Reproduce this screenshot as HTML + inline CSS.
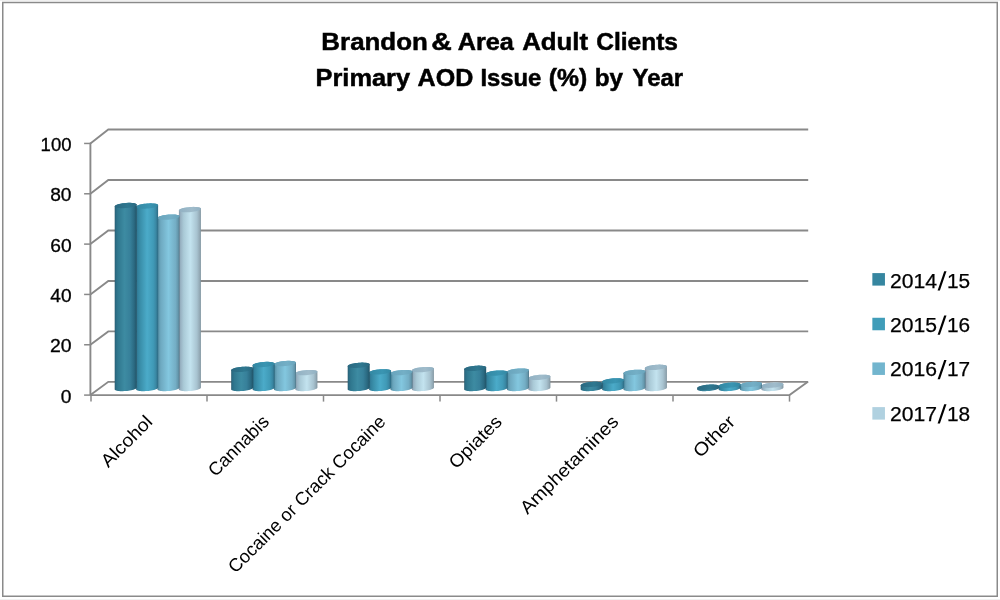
<!DOCTYPE html>
<html><head><meta charset="utf-8"><title>Brandon &amp; Area Adult Clients</title>
<style>html,body{margin:0;padding:0;background:#fff;}body{width:1000px;height:600px;overflow:hidden;}svg{display:block;will-change:transform;transform:translateZ(0);}text{font-family:"Liberation Sans",sans-serif;fill:#000;}</style>
</head><body>
<svg width="1000" height="600" viewBox="0 0 1000 600">
<defs>
<linearGradient id="g0" x1="0" y1="0" x2="1" y2="0"><stop offset="0" stop-color="#26566a"/><stop offset="0.05" stop-color="#2b6c84"/><stop offset="0.15" stop-color="#30788f"/><stop offset="0.45" stop-color="#3d8ba2"/><stop offset="0.7" stop-color="#37809a"/><stop offset="0.88" stop-color="#2b6a82"/><stop offset="1" stop-color="#215468"/></linearGradient>
<linearGradient id="c0" x1="0" y1="0" x2="1" y2="0"><stop offset="0" stop-color="#2a6880"/><stop offset="0.6" stop-color="#2f7890"/><stop offset="1" stop-color="#2a6880"/></linearGradient>
<linearGradient id="g1" x1="0" y1="0" x2="1" y2="0"><stop offset="0" stop-color="#2a647c"/><stop offset="0.07" stop-color="#32809c"/><stop offset="0.2" stop-color="#3a8faa"/><stop offset="0.5" stop-color="#4babc9"/><stop offset="0.78" stop-color="#409ab7"/><stop offset="0.9" stop-color="#3a88a4"/><stop offset="1" stop-color="#2d6a82"/></linearGradient>
<linearGradient id="c1" x1="0" y1="0" x2="1" y2="0"><stop offset="0" stop-color="#3388a3"/><stop offset="0.6" stop-color="#3a95b2"/><stop offset="1" stop-color="#3388a3"/></linearGradient>
<linearGradient id="g2" x1="0" y1="0" x2="1" y2="0"><stop offset="0" stop-color="#3f7489"/><stop offset="0.06" stop-color="#5c98ae"/><stop offset="0.15" stop-color="#6ea9c0"/><stop offset="0.5" stop-color="#83c7df"/><stop offset="0.82" stop-color="#74aec5"/><stop offset="0.94" stop-color="#6496ab"/><stop offset="1" stop-color="#4f7586"/></linearGradient>
<linearGradient id="c2" x1="0" y1="0" x2="1" y2="0"><stop offset="0" stop-color="#68a4bc"/><stop offset="0.6" stop-color="#74afc6"/><stop offset="1" stop-color="#68a4bc"/></linearGradient>
<linearGradient id="g3" x1="0" y1="0" x2="1" y2="0"><stop offset="0" stop-color="#8497a8"/><stop offset="0.08" stop-color="#98b2c2"/><stop offset="0.22" stop-color="#aacad7"/><stop offset="0.52" stop-color="#c3e3ef"/><stop offset="0.82" stop-color="#a8c3d0"/><stop offset="0.94" stop-color="#93a9b5"/><stop offset="1" stop-color="#7c919c"/></linearGradient>
<linearGradient id="c3" x1="0" y1="0" x2="1" y2="0"><stop offset="0" stop-color="#90b0c2"/><stop offset="0.6" stop-color="#a0bccb"/><stop offset="1" stop-color="#90b0c2"/></linearGradient>
</defs>
<rect x="0" y="0" width="1000" height="600" fill="#fff"/>
<rect x="0" y="0" width="1000" height="1" fill="#f0f0f0"/><rect x="0" y="599" width="1000" height="1" fill="#f1f1f1"/>
<rect x="2.75" y="2.5" width="994.5" height="593.75" fill="none" stroke="#8a8a8a" stroke-width="1.5"/>
<text x="321.37" y="49.60" font-size="24.3" font-weight="bold" stroke="#000" stroke-width="0.5" textLength="106.44" lengthAdjust="spacingAndGlyphs">Brandon</text>
<text x="431.15" y="49.60" font-size="24.3" font-weight="bold" stroke="#000" stroke-width="0.5" textLength="20.54" lengthAdjust="spacingAndGlyphs">&amp;</text>
<text x="457.77" y="49.60" font-size="24.3" font-weight="bold" stroke="#000" stroke-width="0.5" textLength="56.07" lengthAdjust="spacingAndGlyphs">Area</text>
<text x="522.16" y="49.60" font-size="24.3" font-weight="bold" stroke="#000" stroke-width="0.5" textLength="65.96" lengthAdjust="spacingAndGlyphs">Adult</text>
<text x="596.19" y="49.60" font-size="24.3" font-weight="bold" stroke="#000" stroke-width="0.5" textLength="81.81" lengthAdjust="spacingAndGlyphs">Clients</text>
<text x="315.50" y="85.50" font-size="24.3" font-weight="bold" stroke="#000" stroke-width="0.5" textLength="94.64" lengthAdjust="spacingAndGlyphs">Primary</text>
<text x="417.58" y="85.50" font-size="24.3" font-weight="bold" stroke="#000" stroke-width="0.5" textLength="55.68" lengthAdjust="spacingAndGlyphs">AOD</text>
<text x="480.40" y="85.50" font-size="24.3" font-weight="bold" stroke="#000" stroke-width="0.5" textLength="61.01" lengthAdjust="spacingAndGlyphs">Issue</text>
<text x="548.77" y="85.50" font-size="24.3" font-weight="bold" stroke="#000" stroke-width="0.5" textLength="38.46" lengthAdjust="spacingAndGlyphs">(%)</text>
<text x="594.80" y="85.50" font-size="24.3" font-weight="bold" stroke="#000" stroke-width="0.5" textLength="28.33" lengthAdjust="spacingAndGlyphs">by</text>
<text x="632.60" y="85.50" font-size="24.3" font-weight="bold" stroke="#000" stroke-width="0.5" textLength="50.35" lengthAdjust="spacingAndGlyphs">Year</text>
<text x="40.59" y="151.10" font-size="18.9" stroke="#000" stroke-width="0.3" textLength="30.94" lengthAdjust="spacingAndGlyphs">100</text>
<text x="50.16" y="201.40" font-size="18.9" stroke="#000" stroke-width="0.3" textLength="21.39" lengthAdjust="spacingAndGlyphs">80</text>
<text x="50.23" y="251.70" font-size="18.9" stroke="#000" stroke-width="0.3" textLength="21.32" lengthAdjust="spacingAndGlyphs">60</text>
<text x="50.26" y="302.00" font-size="18.9" stroke="#000" stroke-width="0.3" textLength="21.29" lengthAdjust="spacingAndGlyphs">40</text>
<text x="49.92" y="352.30" font-size="18.9" stroke="#000" stroke-width="0.3" textLength="21.64" lengthAdjust="spacingAndGlyphs">20</text>
<text x="60.85" y="402.60" font-size="18.9" stroke="#000" stroke-width="0.3" textLength="10.70" lengthAdjust="spacingAndGlyphs">0</text>
<text x="890.14" y="287.50" font-size="19.5" stroke="#000" stroke-width="0.25" textLength="46.98" lengthAdjust="spacingAndGlyphs">2014</text>
<text x="946.91" y="287.50" font-size="19.5" stroke="#000" stroke-width="0.25" textLength="23.16" lengthAdjust="spacingAndGlyphs">15</text>
<text x="890.14" y="331.87" font-size="19.5" stroke="#000" stroke-width="0.25" textLength="46.98" lengthAdjust="spacingAndGlyphs">2015</text>
<text x="946.91" y="331.87" font-size="19.5" stroke="#000" stroke-width="0.25" textLength="23.16" lengthAdjust="spacingAndGlyphs">16</text>
<text x="890.14" y="376.24" font-size="19.5" stroke="#000" stroke-width="0.25" textLength="46.98" lengthAdjust="spacingAndGlyphs">2016</text>
<text x="946.91" y="376.24" font-size="19.5" stroke="#000" stroke-width="0.25" textLength="23.16" lengthAdjust="spacingAndGlyphs">17</text>
<text x="890.14" y="420.61" font-size="19.5" stroke="#000" stroke-width="0.25" textLength="46.98" lengthAdjust="spacingAndGlyphs">2017</text>
<text x="946.91" y="420.61" font-size="19.5" stroke="#000" stroke-width="0.25" textLength="23.16" lengthAdjust="spacingAndGlyphs">18</text>
<g stroke="#898989" stroke-width="1.9" fill="none" stroke-linecap="butt" stroke-linejoin="miter">
<path d="M90.4 344.77L108.30000000000001 331.39H808.2"/>
<path d="M90.4 294.44L108.30000000000001 280.93H808.2"/>
<path d="M90.4 244.11L108.30000000000001 230.47H808.2"/>
<path d="M90.4 193.78L108.30000000000001 180.01H808.2"/>
<path d="M90.4 143.45L108.30000000000001 129.55H808.2"/>
<path d="M90.4 395.1H789.5 L807.9000000000001 381.85"/>
<path d="M90.4 395.1 L108.30000000000001 381.85H808.2"/>
<path d="M90.4 142.75V395.1"/>
</g>
<g stroke="#898989" stroke-width="1.5" fill="none">
<path d="M84.10000000000001 395.10H90.4"/>
<path d="M84.10000000000001 344.77H90.4"/>
<path d="M84.10000000000001 294.44H90.4"/>
<path d="M84.10000000000001 244.11H90.4"/>
<path d="M84.10000000000001 193.78H90.4"/>
<path d="M84.10000000000001 143.45H90.4"/>
<path d="M91.00 395.1V401.6"/>
<path d="M207.00 395.1V401.6"/>
<path d="M323.50 395.1V401.6"/>
<path d="M440.00 395.1V401.6"/>
<path d="M556.50 395.1V401.6"/>
<path d="M673.00 395.1V401.6"/>
<path d="M789.50 395.1V401.6"/>
</g>
<polygon points="200.90,208.69 200.81,208.37 200.53,208.06 200.06,207.78 199.43,207.54 198.63,207.32 197.68,207.15 196.60,207.01 195.40,206.92 194.11,206.88 192.75,206.88 191.34,206.93 189.90,207.02 188.46,207.16 187.05,207.33 185.69,207.55 184.40,207.80 183.20,208.08 182.12,208.39 181.17,208.72 180.37,209.06 179.74,209.41 179.27,209.76 178.99,210.11 178.90,210.45 178.90,389.35 178.99,389.68 179.27,389.98 179.74,390.26 180.37,390.51 181.17,390.73 182.12,390.90 183.20,391.04 184.40,391.13 185.69,391.17 187.05,391.17 188.46,391.12 189.90,391.03 191.34,390.89 192.75,390.71 194.11,390.50 195.40,390.25 196.60,389.97 197.68,389.66 198.63,389.33 199.43,388.99 200.06,388.64 200.53,388.29 200.81,387.94 200.90,387.60" fill="url(#g3)"/>
<polygon points="200.30,209.57 200.73,209.15 200.90,208.74 200.79,208.35 200.42,207.99 199.79,207.66 198.91,207.39 197.81,207.17 196.52,207.00 195.06,206.91 193.48,206.87 191.81,206.91 190.09,207.00 188.37,207.17 186.68,207.39 185.08,207.66 183.59,207.99 182.26,208.35 181.11,208.74 180.19,209.15 179.50,209.57 179.07,210.00 178.90,210.41 179.01,210.80 179.38,211.16 180.01,211.48 180.89,211.76 181.99,211.98 183.28,212.14 184.74,212.24 186.32,212.27 187.99,212.24 189.71,212.14 191.43,211.98 193.12,211.76 194.72,211.48 196.21,211.16 197.54,210.80 198.69,210.41 199.61,210.00 200.30,209.57" fill="url(#c3)"/>
<polygon points="179.50,216.25 179.41,215.93 179.13,215.62 178.66,215.34 178.03,215.09 177.23,214.88 176.28,214.71 175.20,214.57 174.00,214.48 172.71,214.44 171.35,214.44 169.94,214.49 168.50,214.58 167.06,214.72 165.65,214.89 164.29,215.11 163.00,215.36 161.80,215.64 160.72,215.95 159.77,216.27 158.97,216.62 158.34,216.97 157.87,217.32 157.59,217.67 157.50,218.01 157.50,389.35 157.59,389.68 157.87,389.98 158.34,390.26 158.97,390.51 159.77,390.73 160.72,390.90 161.80,391.04 163.00,391.13 164.29,391.17 165.65,391.17 167.06,391.12 168.50,391.03 169.94,390.89 171.35,390.71 172.71,390.50 174.00,390.25 175.20,389.97 176.28,389.66 177.23,389.33 178.03,388.99 178.66,388.64 179.13,388.29 179.41,387.94 179.50,387.60" fill="url(#g2)"/>
<polygon points="178.90,217.13 179.33,216.71 179.50,216.30 179.39,215.91 179.02,215.54 178.39,215.22 177.51,214.95 176.41,214.73 175.12,214.56 173.66,214.47 172.08,214.43 170.41,214.47 168.69,214.56 166.97,214.73 165.28,214.95 163.68,215.22 162.19,215.54 160.86,215.91 159.71,216.30 158.79,216.71 158.10,217.13 157.67,217.55 157.50,217.97 157.61,218.36 157.98,218.72 158.61,219.04 159.49,219.32 160.59,219.54 161.88,219.70 163.34,219.80 164.92,219.83 166.59,219.80 168.31,219.70 170.03,219.54 171.72,219.32 173.32,219.04 174.81,218.72 176.14,218.36 177.29,217.97 178.21,217.55 178.90,217.13" fill="url(#c2)"/>
<polygon points="158.10,205.17 158.01,204.84 157.73,204.54 157.26,204.26 156.63,204.01 155.83,203.79 154.88,203.62 153.80,203.48 152.60,203.39 151.31,203.35 149.95,203.35 148.54,203.40 147.10,203.49 145.66,203.63 144.25,203.81 142.89,204.02 141.60,204.27 140.40,204.55 139.32,204.86 138.37,205.19 137.57,205.53 136.94,205.88 136.47,206.23 136.19,206.58 136.10,206.92 136.10,389.35 136.19,389.68 136.47,389.98 136.94,390.26 137.57,390.51 138.37,390.73 139.32,390.90 140.40,391.04 141.60,391.13 142.89,391.17 144.25,391.17 145.66,391.12 147.10,391.03 148.54,390.89 149.95,390.71 151.31,390.50 152.60,390.25 153.80,389.97 154.88,389.66 155.83,389.33 156.63,388.99 157.26,388.64 157.73,388.29 158.01,387.94 158.10,387.60" fill="url(#g1)"/>
<polygon points="157.50,206.05 157.93,205.62 158.10,205.21 157.99,204.82 157.62,204.46 156.99,204.14 156.11,203.86 155.01,203.64 153.72,203.48 152.26,203.38 150.68,203.35 149.01,203.38 147.29,203.48 145.57,203.64 143.88,203.86 142.28,204.14 140.79,204.46 139.46,204.82 138.31,205.21 137.39,205.62 136.70,206.05 136.27,206.47 136.10,206.88 136.21,207.27 136.58,207.63 137.21,207.95 138.09,208.23 139.19,208.45 140.48,208.61 141.94,208.71 143.52,208.75 145.19,208.71 146.91,208.61 148.63,208.45 150.32,208.23 151.92,207.95 153.41,207.63 154.74,207.27 155.89,206.88 156.81,206.47 157.50,206.05" fill="url(#c1)"/>
<polygon points="136.70,204.66 136.61,204.34 136.33,204.03 135.86,203.75 135.23,203.50 134.43,203.29 133.48,203.11 132.40,202.98 131.20,202.89 129.91,202.85 128.55,202.85 127.14,202.90 125.70,202.99 124.26,203.12 122.85,203.30 121.49,203.52 120.20,203.77 119.00,204.05 117.92,204.36 116.97,204.68 116.17,205.03 115.54,205.38 115.07,205.73 114.79,206.08 114.70,206.42 114.70,389.35 114.79,389.68 115.07,389.98 115.54,390.26 116.17,390.51 116.97,390.73 117.92,390.90 119.00,391.04 120.20,391.13 121.49,391.17 122.85,391.17 124.26,391.12 125.70,391.03 127.14,390.89 128.55,390.71 129.91,390.50 131.20,390.25 132.40,389.97 133.48,389.66 134.43,389.33 135.23,388.99 135.86,388.64 136.33,388.29 136.61,387.94 136.70,387.60" fill="url(#g0)"/>
<polygon points="136.10,205.54 136.53,205.12 136.70,204.71 136.59,204.32 136.22,203.95 135.59,203.63 134.71,203.36 133.61,203.14 132.32,202.97 130.86,202.87 129.28,202.84 127.61,202.87 125.89,202.97 124.17,203.14 122.48,203.36 120.88,203.63 119.39,203.95 118.06,204.32 116.91,204.71 115.99,205.12 115.30,205.54 114.87,205.96 114.70,206.38 114.81,206.77 115.18,207.13 115.81,207.45 116.69,207.73 117.79,207.95 119.08,208.11 120.54,208.21 122.12,208.24 123.79,208.21 125.51,208.11 127.23,207.95 128.92,207.73 130.52,207.45 132.01,207.13 133.34,206.77 134.49,206.38 135.41,205.96 136.10,205.54" fill="url(#c0)"/>
<polygon points="317.40,371.72 317.31,371.40 317.03,371.09 316.56,370.81 315.93,370.56 315.13,370.35 314.18,370.17 313.10,370.04 311.90,369.95 310.61,369.91 309.25,369.91 307.84,369.95 306.40,370.05 304.96,370.18 303.55,370.36 302.19,370.58 300.90,370.83 299.70,371.11 298.62,371.42 297.67,371.74 296.87,372.09 296.24,372.44 295.77,372.79 295.49,373.14 295.40,373.48 295.40,389.35 295.49,389.68 295.77,389.98 296.24,390.26 296.87,390.51 297.67,390.73 298.62,390.90 299.70,391.04 300.90,391.13 302.19,391.17 303.55,391.17 304.96,391.12 306.40,391.03 307.84,390.89 309.25,390.71 310.61,390.50 311.90,390.25 313.10,389.97 314.18,389.66 315.13,389.33 315.93,388.99 316.56,388.64 317.03,388.29 317.31,387.94 317.40,387.60" fill="url(#g3)"/>
<polygon points="316.80,372.60 317.23,372.18 317.40,371.77 317.29,371.37 316.92,371.01 316.29,370.69 315.41,370.42 314.31,370.19 313.02,370.03 311.56,369.93 309.98,369.90 308.31,369.93 306.59,370.03 304.87,370.19 303.18,370.42 301.58,370.69 300.09,371.01 298.76,371.37 297.61,371.77 296.69,372.18 296.00,372.60 295.57,373.02 295.40,373.43 295.51,373.83 295.88,374.19 296.51,374.51 297.39,374.78 298.49,375.01 299.78,375.17 301.24,375.27 302.82,375.30 304.49,375.27 306.21,375.17 307.93,375.01 309.62,374.78 311.22,374.51 312.71,374.19 314.04,373.83 315.19,373.43 316.11,373.02 316.80,372.60" fill="url(#c3)"/>
<polygon points="296.00,362.65 295.91,362.33 295.63,362.02 295.16,361.74 294.53,361.49 293.73,361.28 292.78,361.10 291.70,360.97 290.50,360.88 289.21,360.83 287.85,360.84 286.44,360.88 285.00,360.98 283.56,361.11 282.15,361.29 280.79,361.51 279.50,361.76 278.30,362.04 277.22,362.35 276.27,362.67 275.47,363.01 274.84,363.36 274.37,363.72 274.09,364.07 274.00,364.41 274.00,389.35 274.09,389.68 274.37,389.98 274.84,390.26 275.47,390.51 276.27,390.73 277.22,390.90 278.30,391.04 279.50,391.13 280.79,391.17 282.15,391.17 283.56,391.12 285.00,391.03 286.44,390.89 287.85,390.71 289.21,390.50 290.50,390.25 291.70,389.97 292.78,389.66 293.73,389.33 294.53,388.99 295.16,388.64 295.63,388.29 295.91,387.94 296.00,387.60" fill="url(#g2)"/>
<polygon points="295.40,363.53 295.83,363.11 296.00,362.70 295.89,362.30 295.52,361.94 294.89,361.62 294.01,361.35 292.91,361.12 291.62,360.96 290.16,360.86 288.58,360.83 286.91,360.86 285.19,360.96 283.47,361.12 281.78,361.35 280.18,361.62 278.69,361.94 277.36,362.30 276.21,362.70 275.29,363.11 274.60,363.53 274.17,363.95 274.00,364.36 274.11,364.76 274.48,365.12 275.11,365.44 275.99,365.71 277.09,365.94 278.38,366.10 279.84,366.20 281.42,366.23 283.09,366.20 284.81,366.10 286.53,365.94 288.22,365.71 289.82,365.44 291.31,365.12 292.64,364.76 293.79,364.36 294.71,363.95 295.40,363.53" fill="url(#c2)"/>
<polygon points="274.60,363.66 274.51,363.33 274.23,363.03 273.76,362.75 273.13,362.50 272.33,362.29 271.38,362.11 270.30,361.98 269.10,361.89 267.81,361.84 266.45,361.84 265.04,361.89 263.60,361.98 262.16,362.12 260.75,362.30 259.39,362.51 258.10,362.77 256.90,363.05 255.82,363.35 254.87,363.68 254.07,364.02 253.44,364.37 252.97,364.73 252.69,365.08 252.60,365.42 252.60,389.35 252.69,389.68 252.97,389.98 253.44,390.26 254.07,390.51 254.87,390.73 255.82,390.90 256.90,391.04 258.10,391.13 259.39,391.17 260.75,391.17 262.16,391.12 263.60,391.03 265.04,390.89 266.45,390.71 267.81,390.50 269.10,390.25 270.30,389.97 271.38,389.66 272.33,389.33 273.13,388.99 273.76,388.64 274.23,388.29 274.51,387.94 274.60,387.60" fill="url(#g1)"/>
<polygon points="274.00,364.54 274.43,364.12 274.60,363.70 274.49,363.31 274.12,362.95 273.49,362.63 272.61,362.35 271.51,362.13 270.22,361.97 268.76,361.87 267.18,361.84 265.51,361.87 263.79,361.97 262.07,362.13 260.38,362.35 258.78,362.63 257.29,362.95 255.96,363.31 254.81,363.70 253.89,364.12 253.20,364.54 252.77,364.96 252.60,365.37 252.71,365.76 253.08,366.12 253.71,366.45 254.59,366.72 255.69,366.94 256.98,367.11 258.44,367.20 260.02,367.24 261.69,367.20 263.41,367.11 265.13,366.94 266.82,366.72 268.42,366.45 269.91,366.12 271.24,365.76 272.39,365.37 273.31,364.96 274.00,364.54" fill="url(#c1)"/>
<polygon points="253.20,368.45 253.11,368.12 252.83,367.82 252.36,367.54 251.73,367.29 250.93,367.07 249.98,366.90 248.90,366.76 247.70,366.67 246.41,366.63 245.05,366.63 243.64,366.68 242.20,366.77 240.76,366.91 239.35,367.09 237.99,367.30 236.70,367.55 235.50,367.83 234.42,368.14 233.47,368.47 232.67,368.81 232.04,369.16 231.57,369.51 231.29,369.86 231.20,370.20 231.20,389.35 231.29,389.68 231.57,389.98 232.04,390.26 232.67,390.51 233.47,390.73 234.42,390.90 235.50,391.04 236.70,391.13 237.99,391.17 239.35,391.17 240.76,391.12 242.20,391.03 243.64,390.89 245.05,390.71 246.41,390.50 247.70,390.25 248.90,389.97 249.98,389.66 250.93,389.33 251.73,388.99 252.36,388.64 252.83,388.29 253.11,387.94 253.20,387.60" fill="url(#g0)"/>
<polygon points="252.60,369.32 253.03,368.90 253.20,368.49 253.09,368.10 252.72,367.74 252.09,367.42 251.21,367.14 250.11,366.92 248.82,366.76 247.36,366.66 245.78,366.62 244.11,366.66 242.39,366.76 240.67,366.92 238.98,367.14 237.38,367.42 235.89,367.74 234.56,368.10 233.41,368.49 232.49,368.90 231.80,369.32 231.37,369.75 231.20,370.16 231.31,370.55 231.68,370.91 232.31,371.23 233.19,371.51 234.29,371.73 235.58,371.89 237.04,371.99 238.62,372.02 240.29,371.99 242.01,371.89 243.73,371.73 245.42,371.51 247.02,371.23 248.51,370.91 249.84,370.55 250.99,370.16 251.91,369.75 252.60,369.32" fill="url(#c0)"/>
<polygon points="433.90,368.70 433.81,368.37 433.53,368.07 433.06,367.79 432.43,367.54 431.63,367.33 430.68,367.15 429.60,367.02 428.40,366.93 427.11,366.88 425.75,366.88 424.34,366.93 422.90,367.02 421.46,367.16 420.05,367.34 418.69,367.55 417.40,367.81 416.20,368.09 415.12,368.39 414.17,368.72 413.37,369.06 412.74,369.41 412.27,369.76 411.99,370.11 411.90,370.46 411.90,389.35 411.99,389.68 412.27,389.98 412.74,390.26 413.37,390.51 414.17,390.73 415.12,390.90 416.20,391.04 417.40,391.13 418.69,391.17 420.05,391.17 421.46,391.12 422.90,391.03 424.34,390.89 425.75,390.71 427.11,390.50 428.40,390.25 429.60,389.97 430.68,389.66 431.63,389.33 432.43,388.99 433.06,388.64 433.53,388.29 433.81,387.94 433.90,387.60" fill="url(#g3)"/>
<polygon points="433.30,369.58 433.73,369.15 433.90,368.74 433.79,368.35 433.42,367.99 432.79,367.67 431.91,367.39 430.81,367.17 429.52,367.01 428.06,366.91 426.48,366.88 424.81,366.91 423.09,367.01 421.37,367.17 419.68,367.39 418.08,367.67 416.59,367.99 415.26,368.35 414.11,368.74 413.19,369.15 412.50,369.58 412.07,370.00 411.90,370.41 412.01,370.80 412.38,371.16 413.01,371.49 413.89,371.76 414.99,371.98 416.28,372.14 417.74,372.24 419.32,372.28 420.99,372.24 422.71,372.14 424.43,371.98 426.12,371.76 427.72,371.49 429.21,371.16 430.54,370.80 431.69,370.41 432.61,370.00 433.30,369.58" fill="url(#c3)"/>
<polygon points="412.50,371.72 412.41,371.40 412.13,371.09 411.66,370.81 411.03,370.56 410.23,370.35 409.28,370.17 408.20,370.04 407.00,369.95 405.71,369.91 404.35,369.91 402.94,369.95 401.50,370.05 400.06,370.18 398.65,370.36 397.29,370.58 396.00,370.83 394.80,371.11 393.72,371.42 392.77,371.74 391.97,372.09 391.34,372.44 390.87,372.79 390.59,373.14 390.50,373.48 390.50,389.35 390.59,389.68 390.87,389.98 391.34,390.26 391.97,390.51 392.77,390.73 393.72,390.90 394.80,391.04 396.00,391.13 397.29,391.17 398.65,391.17 400.06,391.12 401.50,391.03 402.94,390.89 404.35,390.71 405.71,390.50 407.00,390.25 408.20,389.97 409.28,389.66 410.23,389.33 411.03,388.99 411.66,388.64 412.13,388.29 412.41,387.94 412.50,387.60" fill="url(#g2)"/>
<polygon points="411.90,372.60 412.33,372.18 412.50,371.77 412.39,371.37 412.02,371.01 411.39,370.69 410.51,370.42 409.41,370.19 408.12,370.03 406.66,369.93 405.08,369.90 403.41,369.93 401.69,370.03 399.97,370.19 398.28,370.42 396.68,370.69 395.19,371.01 393.86,371.37 392.71,371.77 391.79,372.18 391.10,372.60 390.67,373.02 390.50,373.43 390.61,373.83 390.98,374.19 391.61,374.51 392.49,374.78 393.59,375.01 394.88,375.17 396.34,375.27 397.92,375.30 399.59,375.27 401.31,375.17 403.03,375.01 404.72,374.78 406.32,374.51 407.81,374.19 409.14,373.83 410.29,373.43 411.21,373.02 411.90,372.60" fill="url(#c2)"/>
<polygon points="391.10,370.97 391.01,370.64 390.73,370.34 390.26,370.06 389.63,369.81 388.83,369.59 387.88,369.42 386.80,369.28 385.60,369.19 384.31,369.15 382.95,369.15 381.54,369.20 380.10,369.29 378.66,369.43 377.25,369.61 375.89,369.82 374.60,370.07 373.40,370.35 372.32,370.66 371.37,370.99 370.57,371.33 369.94,371.68 369.47,372.03 369.19,372.38 369.10,372.72 369.10,389.35 369.19,389.68 369.47,389.98 369.94,390.26 370.57,390.51 371.37,390.73 372.32,390.90 373.40,391.04 374.60,391.13 375.89,391.17 377.25,391.17 378.66,391.12 380.10,391.03 381.54,390.89 382.95,390.71 384.31,390.50 385.60,390.25 386.80,389.97 387.88,389.66 388.83,389.33 389.63,388.99 390.26,388.64 390.73,388.29 391.01,387.94 391.10,387.60" fill="url(#g1)"/>
<polygon points="390.50,371.84 390.93,371.42 391.10,371.01 390.99,370.62 390.62,370.26 389.99,369.94 389.11,369.66 388.01,369.44 386.72,369.28 385.26,369.18 383.68,369.14 382.01,369.18 380.29,369.28 378.57,369.44 376.88,369.66 375.28,369.94 373.79,370.26 372.46,370.62 371.31,371.01 370.39,371.42 369.70,371.84 369.27,372.27 369.10,372.68 369.21,373.07 369.58,373.43 370.21,373.75 371.09,374.03 372.19,374.25 373.48,374.41 374.94,374.51 376.52,374.54 378.19,374.51 379.91,374.41 381.63,374.25 383.32,374.03 384.92,373.75 386.41,373.43 387.74,373.07 388.89,372.68 389.81,372.27 390.50,371.84" fill="url(#c1)"/>
<polygon points="369.70,364.41 369.61,364.09 369.33,363.78 368.86,363.50 368.23,363.26 367.43,363.04 366.48,362.87 365.40,362.73 364.20,362.64 362.91,362.60 361.55,362.60 360.14,362.65 358.70,362.74 357.26,362.88 355.85,363.05 354.49,363.27 353.20,363.52 352.00,363.80 350.92,364.11 349.97,364.44 349.17,364.78 348.54,365.13 348.07,365.48 347.79,365.83 347.70,366.17 347.70,389.35 347.79,389.68 348.07,389.98 348.54,390.26 349.17,390.51 349.97,390.73 350.92,390.90 352.00,391.04 353.20,391.13 354.49,391.17 355.85,391.17 357.26,391.12 358.70,391.03 360.14,390.89 361.55,390.71 362.91,390.50 364.20,390.25 365.40,389.97 366.48,389.66 367.43,389.33 368.23,388.99 368.86,388.64 369.33,388.29 369.61,387.94 369.70,387.60" fill="url(#g0)"/>
<polygon points="369.10,365.29 369.53,364.87 369.70,364.46 369.59,364.07 369.22,363.71 368.59,363.38 367.71,363.11 366.61,362.89 365.32,362.73 363.86,362.63 362.28,362.59 360.61,362.63 358.89,362.73 357.17,362.89 355.48,363.11 353.88,363.38 352.39,363.71 351.06,364.07 349.91,364.46 348.99,364.87 348.30,365.29 347.87,365.72 347.70,366.13 347.81,366.52 348.18,366.88 348.81,367.20 349.69,367.48 350.79,367.70 352.08,367.86 353.54,367.96 355.12,367.99 356.79,367.96 358.51,367.86 360.23,367.70 361.92,367.48 363.52,367.20 365.01,366.88 366.34,366.52 367.49,366.13 368.41,365.72 369.10,365.29" fill="url(#c0)"/>
<polygon points="550.40,376.51 550.31,376.18 550.03,375.88 549.56,375.60 548.93,375.35 548.13,375.14 547.18,374.96 546.10,374.83 544.90,374.74 543.61,374.69 542.25,374.69 540.84,374.74 539.40,374.84 537.96,374.97 536.55,375.15 535.19,375.37 533.90,375.62 532.70,375.90 531.62,376.20 530.67,376.53 529.87,376.87 529.24,377.22 528.77,377.58 528.49,377.93 528.40,378.27 528.40,389.35 528.49,389.68 528.77,389.98 529.24,390.26 529.87,390.51 530.67,390.73 531.62,390.90 532.70,391.04 533.90,391.13 535.19,391.17 536.55,391.17 537.96,391.12 539.40,391.03 540.84,390.89 542.25,390.71 543.61,390.50 544.90,390.25 546.10,389.97 547.18,389.66 548.13,389.33 548.93,388.99 549.56,388.64 550.03,388.29 550.31,387.94 550.40,387.60" fill="url(#g3)"/>
<polygon points="549.80,377.39 550.23,376.97 550.40,376.55 550.29,376.16 549.92,375.80 549.29,375.48 548.41,375.20 547.31,374.98 546.02,374.82 544.56,374.72 542.98,374.69 541.31,374.72 539.59,374.82 537.87,374.98 536.18,375.20 534.58,375.48 533.09,375.80 531.76,376.16 530.61,376.55 529.69,376.97 529.00,377.39 528.57,377.81 528.40,378.22 528.51,378.61 528.88,378.98 529.51,379.30 530.39,379.57 531.49,379.79 532.78,379.96 534.24,380.05 535.82,380.09 537.49,380.05 539.21,379.96 540.93,379.79 542.62,379.57 544.22,379.30 545.71,378.98 547.04,378.61 548.19,378.22 549.11,377.81 549.80,377.39" fill="url(#c3)"/>
<polygon points="529.00,370.21 528.91,369.88 528.63,369.58 528.16,369.30 527.53,369.05 526.73,368.84 525.78,368.66 524.70,368.53 523.50,368.44 522.21,368.39 520.85,368.40 519.44,368.44 518.00,368.54 516.56,368.67 515.15,368.85 513.79,369.07 512.50,369.32 511.30,369.60 510.22,369.90 509.27,370.23 508.47,370.57 507.84,370.92 507.37,371.28 507.09,371.63 507.00,371.97 507.00,389.35 507.09,389.68 507.37,389.98 507.84,390.26 508.47,390.51 509.27,390.73 510.22,390.90 511.30,391.04 512.50,391.13 513.79,391.17 515.15,391.17 516.56,391.12 518.00,391.03 519.44,390.89 520.85,390.71 522.21,390.50 523.50,390.25 524.70,389.97 525.78,389.66 526.73,389.33 527.53,388.99 528.16,388.64 528.63,388.29 528.91,387.94 529.00,387.60" fill="url(#g2)"/>
<polygon points="528.40,371.09 528.83,370.67 529.00,370.25 528.89,369.86 528.52,369.50 527.89,369.18 527.01,368.90 525.91,368.68 524.62,368.52 523.16,368.42 521.58,368.39 519.91,368.42 518.19,368.52 516.47,368.68 514.78,368.90 513.18,369.18 511.69,369.50 510.36,369.86 509.21,370.25 508.29,370.67 507.60,371.09 507.17,371.51 507.00,371.92 507.11,372.31 507.48,372.68 508.11,373.00 508.99,373.27 510.09,373.49 511.38,373.66 512.84,373.76 514.42,373.79 516.09,373.76 517.81,373.66 519.53,373.49 521.22,373.27 522.82,373.00 524.31,372.68 525.64,372.31 526.79,371.92 527.71,371.51 528.40,371.09" fill="url(#c2)"/>
<polygon points="507.60,372.23 507.51,371.90 507.23,371.59 506.76,371.32 506.13,371.07 505.33,370.85 504.38,370.68 503.30,370.54 502.10,370.45 500.81,370.41 499.45,370.41 498.04,370.46 496.60,370.55 495.16,370.69 493.75,370.87 492.39,371.08 491.10,371.33 489.90,371.61 488.82,371.92 487.87,372.25 487.07,372.59 486.44,372.94 485.97,373.29 485.69,373.64 485.60,373.98 485.60,389.35 485.69,389.68 485.97,389.98 486.44,390.26 487.07,390.51 487.87,390.73 488.82,390.90 489.90,391.04 491.10,391.13 492.39,391.17 493.75,391.17 495.16,391.12 496.60,391.03 498.04,390.89 499.45,390.71 500.81,390.50 502.10,390.25 503.30,389.97 504.38,389.66 505.33,389.33 506.13,388.99 506.76,388.64 507.23,388.29 507.51,387.94 507.60,387.60" fill="url(#g1)"/>
<polygon points="507.00,373.10 507.43,372.68 507.60,372.27 507.49,371.88 507.12,371.52 506.49,371.20 505.61,370.92 504.51,370.70 503.22,370.54 501.76,370.44 500.18,370.40 498.51,370.44 496.79,370.54 495.07,370.70 493.38,370.92 491.78,371.20 490.29,371.52 488.96,371.88 487.81,372.27 486.89,372.68 486.20,373.10 485.77,373.53 485.60,373.94 485.71,374.33 486.08,374.69 486.71,375.01 487.59,375.29 488.69,375.51 489.98,375.67 491.44,375.77 493.02,375.80 494.69,375.77 496.41,375.67 498.13,375.51 499.82,375.29 501.42,375.01 502.91,374.69 504.24,374.33 505.39,373.94 506.31,373.53 507.00,373.10" fill="url(#c1)"/>
<polygon points="486.20,367.44 486.11,367.11 485.83,366.81 485.36,366.53 484.73,366.28 483.93,366.07 482.98,365.89 481.90,365.76 480.70,365.67 479.41,365.62 478.05,365.62 476.64,365.67 475.20,365.76 473.76,365.90 472.35,366.08 470.99,366.29 469.70,366.55 468.50,366.83 467.42,367.13 466.47,367.46 465.67,367.80 465.04,368.15 464.57,368.51 464.29,368.85 464.20,369.20 464.20,389.35 464.29,389.68 464.57,389.98 465.04,390.26 465.67,390.51 466.47,390.73 467.42,390.90 468.50,391.04 469.70,391.13 470.99,391.17 472.35,391.17 473.76,391.12 475.20,391.03 476.64,390.89 478.05,390.71 479.41,390.50 480.70,390.25 481.90,389.97 482.98,389.66 483.93,389.33 484.73,388.99 485.36,388.64 485.83,388.29 486.11,387.94 486.20,387.60" fill="url(#g0)"/>
<polygon points="485.60,368.32 486.03,367.89 486.20,367.48 486.09,367.09 485.72,366.73 485.09,366.41 484.21,366.13 483.11,365.91 481.82,365.75 480.36,365.65 478.78,365.62 477.11,365.65 475.39,365.75 473.67,365.91 471.98,366.13 470.38,366.41 468.89,366.73 467.56,367.09 466.41,367.48 465.49,367.89 464.80,368.32 464.37,368.74 464.20,369.15 464.31,369.54 464.68,369.90 465.31,370.23 466.19,370.50 467.29,370.72 468.58,370.88 470.04,370.98 471.62,371.02 473.29,370.98 475.01,370.88 476.73,370.72 478.42,370.50 480.02,370.23 481.51,369.90 482.84,369.54 483.99,369.15 484.91,368.74 485.60,368.32" fill="url(#c0)"/>
<polygon points="666.90,366.43 666.81,366.10 666.53,365.80 666.06,365.52 665.43,365.27 664.63,365.06 663.68,364.88 662.60,364.75 661.40,364.66 660.11,364.61 658.75,364.62 657.34,364.66 655.90,364.76 654.46,364.89 653.05,365.07 651.69,365.29 650.40,365.54 649.20,365.82 648.12,366.13 647.17,366.45 646.37,366.79 645.74,367.14 645.27,367.50 644.99,367.85 644.90,368.19 644.90,389.35 644.99,389.68 645.27,389.98 645.74,390.26 646.37,390.51 647.17,390.73 648.12,390.90 649.20,391.04 650.40,391.13 651.69,391.17 653.05,391.17 654.46,391.12 655.90,391.03 657.34,390.89 658.75,390.71 660.11,390.50 661.40,390.25 662.60,389.97 663.68,389.66 664.63,389.33 665.43,388.99 666.06,388.64 666.53,388.29 666.81,387.94 666.90,387.60" fill="url(#g3)"/>
<polygon points="666.30,367.31 666.73,366.89 666.90,366.47 666.79,366.08 666.42,365.72 665.79,365.40 664.91,365.12 663.81,364.90 662.52,364.74 661.06,364.64 659.48,364.61 657.81,364.64 656.09,364.74 654.37,364.90 652.68,365.12 651.08,365.40 649.59,365.72 648.26,366.08 647.11,366.47 646.19,366.89 645.50,367.31 645.07,367.73 644.90,368.14 645.01,368.53 645.38,368.90 646.01,369.22 646.89,369.49 647.99,369.71 649.28,369.88 650.74,369.98 652.32,370.01 653.99,369.98 655.71,369.88 657.43,369.71 659.12,369.49 660.72,369.22 662.21,368.90 663.54,368.53 664.69,368.14 665.61,367.73 666.30,367.31" fill="url(#c3)"/>
<polygon points="645.50,371.47 645.41,371.14 645.13,370.84 644.66,370.56 644.03,370.31 643.23,370.10 642.28,369.92 641.20,369.79 640.00,369.70 638.71,369.65 637.35,369.66 635.94,369.70 634.50,369.80 633.06,369.93 631.65,370.11 630.29,370.33 629.00,370.58 627.80,370.86 626.72,371.16 625.77,371.49 624.97,371.83 624.34,372.18 623.87,372.54 623.59,372.89 623.50,373.23 623.50,389.35 623.59,389.68 623.87,389.98 624.34,390.26 624.97,390.51 625.77,390.73 626.72,390.90 627.80,391.04 629.00,391.13 630.29,391.17 631.65,391.17 633.06,391.12 634.50,391.03 635.94,390.89 637.35,390.71 638.71,390.50 640.00,390.25 641.20,389.97 642.28,389.66 643.23,389.33 644.03,388.99 644.66,388.64 645.13,388.29 645.41,387.94 645.50,387.60" fill="url(#g2)"/>
<polygon points="644.90,372.35 645.33,371.93 645.50,371.51 645.39,371.12 645.02,370.76 644.39,370.44 643.51,370.16 642.41,369.94 641.12,369.78 639.66,369.68 638.08,369.65 636.41,369.68 634.69,369.78 632.97,369.94 631.28,370.16 629.68,370.44 628.19,370.76 626.86,371.12 625.71,371.51 624.79,371.93 624.10,372.35 623.67,372.77 623.50,373.18 623.61,373.57 623.98,373.94 624.61,374.26 625.49,374.53 626.59,374.75 627.88,374.92 629.34,375.02 630.92,375.05 632.59,375.02 634.31,374.92 636.03,374.75 637.72,374.53 639.32,374.26 640.81,373.94 642.14,373.57 643.29,373.18 644.21,372.77 644.90,372.35" fill="url(#c2)"/>
<polygon points="624.10,380.04 624.01,379.71 623.73,379.41 623.26,379.13 622.63,378.88 621.83,378.66 620.88,378.49 619.80,378.36 618.60,378.27 617.31,378.22 615.95,378.22 614.54,378.27 613.10,378.36 611.66,378.50 610.25,378.68 608.89,378.89 607.60,379.14 606.40,379.43 605.32,379.73 604.37,380.06 603.57,380.40 602.94,380.75 602.47,381.10 602.19,381.45 602.10,381.79 602.10,389.35 602.19,389.68 602.47,389.98 602.94,390.26 603.57,390.51 604.37,390.73 605.32,390.90 606.40,391.04 607.60,391.13 608.89,391.17 610.25,391.17 611.66,391.12 613.10,391.03 614.54,390.89 615.95,390.71 617.31,390.50 618.60,390.25 619.80,389.97 620.88,389.66 621.83,389.33 622.63,388.99 623.26,388.64 623.73,388.29 624.01,387.94 624.10,387.60" fill="url(#g1)"/>
<polygon points="623.50,380.92 623.93,380.49 624.10,380.08 623.99,379.69 623.62,379.33 622.99,379.01 622.11,378.73 621.01,378.51 619.72,378.35 618.26,378.25 616.68,378.22 615.01,378.25 613.29,378.35 611.57,378.51 609.88,378.73 608.28,379.01 606.79,379.33 605.46,379.69 604.31,380.08 603.39,380.49 602.70,380.92 602.27,381.34 602.10,381.75 602.21,382.14 602.58,382.50 603.21,382.82 604.09,383.10 605.19,383.32 606.48,383.48 607.94,383.58 609.52,383.62 611.19,383.58 612.91,383.48 614.63,383.32 616.32,383.10 617.92,382.82 619.41,382.50 620.74,382.14 621.89,381.75 622.81,381.34 623.50,380.92" fill="url(#c1)"/>
<polygon points="602.70,383.56 602.61,383.24 602.33,382.93 601.86,382.65 601.23,382.41 600.43,382.19 599.48,382.02 598.40,381.88 597.20,381.79 595.91,381.75 594.55,381.75 593.14,381.80 591.70,381.89 590.26,382.03 588.85,382.20 587.49,382.42 586.20,382.67 585.00,382.95 583.92,383.26 582.97,383.59 582.17,383.93 581.54,384.28 581.07,384.63 580.79,384.98 580.70,385.32 580.70,389.35 580.79,389.68 581.07,389.98 581.54,390.26 582.17,390.51 582.97,390.73 583.92,390.90 585.00,391.04 586.20,391.13 587.49,391.17 588.85,391.17 590.26,391.12 591.70,391.03 593.14,390.89 594.55,390.71 595.91,390.50 597.20,390.25 598.40,389.97 599.48,389.66 600.43,389.33 601.23,388.99 601.86,388.64 602.33,388.29 602.61,387.94 602.70,387.60" fill="url(#g0)"/>
<polygon points="602.10,384.44 602.53,384.02 602.70,383.61 602.59,383.22 602.22,382.86 601.59,382.53 600.71,382.26 599.61,382.04 598.32,381.88 596.86,381.78 595.28,381.74 593.61,381.78 591.89,381.88 590.17,382.04 588.48,382.26 586.88,382.53 585.39,382.86 584.06,383.22 582.91,383.61 581.99,384.02 581.30,384.44 580.87,384.87 580.70,385.28 580.81,385.67 581.18,386.03 581.81,386.35 582.69,386.63 583.79,386.85 585.08,387.01 586.54,387.11 588.12,387.14 589.79,387.11 591.51,387.01 593.23,386.85 594.92,386.63 596.52,386.35 598.01,386.03 599.34,385.67 600.49,385.28 601.41,384.87 602.10,384.44" fill="url(#c0)"/>
<polygon points="783.40,384.32 783.31,383.99 783.03,383.69 782.56,383.41 781.93,383.16 781.13,382.95 780.18,382.77 779.10,382.64 777.90,382.55 776.61,382.50 775.25,382.51 773.84,382.55 772.40,382.65 770.96,382.78 769.55,382.96 768.19,383.18 766.90,383.43 765.70,383.71 764.62,384.02 763.67,384.34 762.87,384.68 762.24,385.03 761.77,385.39 761.49,385.74 761.40,386.08 761.40,389.35 761.49,389.68 761.77,389.98 762.24,390.26 762.87,390.51 763.67,390.73 764.62,390.90 765.70,391.04 766.90,391.13 768.19,391.17 769.55,391.17 770.96,391.12 772.40,391.03 773.84,390.89 775.25,390.71 776.61,390.50 777.90,390.25 779.10,389.97 780.18,389.66 781.13,389.33 781.93,388.99 782.56,388.64 783.03,388.29 783.31,387.94 783.40,387.60" fill="url(#g3)"/>
<polygon points="782.80,385.20 783.23,384.78 783.40,384.36 783.29,383.97 782.92,383.61 782.29,383.29 781.41,383.01 780.31,382.79 779.02,382.63 777.56,382.53 775.98,382.50 774.31,382.53 772.59,382.63 770.87,382.79 769.18,383.01 767.58,383.29 766.09,383.61 764.76,383.97 763.61,384.36 762.69,384.78 762.00,385.20 761.57,385.62 761.40,386.03 761.51,386.43 761.88,386.79 762.51,387.11 763.39,387.38 764.49,387.61 765.78,387.77 767.24,387.87 768.82,387.90 770.49,387.87 772.21,387.77 773.93,387.61 775.62,387.38 777.22,387.11 778.71,386.79 780.04,386.43 781.19,386.03 782.11,385.62 782.80,385.20" fill="url(#c3)"/>
<polygon points="762.00,383.56 761.91,383.24 761.63,382.93 761.16,382.65 760.53,382.41 759.73,382.19 758.78,382.02 757.70,381.88 756.50,381.79 755.21,381.75 753.85,381.75 752.44,381.80 751.00,381.89 749.56,382.03 748.15,382.20 746.79,382.42 745.50,382.67 744.30,382.95 743.22,383.26 742.27,383.59 741.47,383.93 740.84,384.28 740.37,384.63 740.09,384.98 740.00,385.32 740.00,389.35 740.09,389.68 740.37,389.98 740.84,390.26 741.47,390.51 742.27,390.73 743.22,390.90 744.30,391.04 745.50,391.13 746.79,391.17 748.15,391.17 749.56,391.12 751.00,391.03 752.44,390.89 753.85,390.71 755.21,390.50 756.50,390.25 757.70,389.97 758.78,389.66 759.73,389.33 760.53,388.99 761.16,388.64 761.63,388.29 761.91,387.94 762.00,387.60" fill="url(#g2)"/>
<polygon points="761.40,384.44 761.83,384.02 762.00,383.61 761.89,383.22 761.52,382.86 760.89,382.53 760.01,382.26 758.91,382.04 757.62,381.88 756.16,381.78 754.58,381.74 752.91,381.78 751.19,381.88 749.47,382.04 747.78,382.26 746.18,382.53 744.69,382.86 743.36,383.22 742.21,383.61 741.29,384.02 740.60,384.44 740.17,384.87 740.00,385.28 740.11,385.67 740.48,386.03 741.11,386.35 741.99,386.63 743.09,386.85 744.38,387.01 745.84,387.11 747.42,387.14 749.09,387.11 750.81,387.01 752.53,386.85 754.22,386.63 755.82,386.35 757.31,386.03 758.64,385.67 759.79,385.28 760.71,384.87 761.40,384.44" fill="url(#c2)"/>
<polygon points="740.60,384.32 740.51,383.99 740.23,383.69 739.76,383.41 739.13,383.16 738.33,382.95 737.38,382.77 736.30,382.64 735.10,382.55 733.81,382.50 732.45,382.51 731.04,382.55 729.60,382.65 728.16,382.78 726.75,382.96 725.39,383.18 724.10,383.43 722.90,383.71 721.82,384.02 720.87,384.34 720.07,384.68 719.44,385.03 718.97,385.39 718.69,385.74 718.60,386.08 718.60,389.35 718.69,389.68 718.97,389.98 719.44,390.26 720.07,390.51 720.87,390.73 721.82,390.90 722.90,391.04 724.10,391.13 725.39,391.17 726.75,391.17 728.16,391.12 729.60,391.03 731.04,390.89 732.45,390.71 733.81,390.50 735.10,390.25 736.30,389.97 737.38,389.66 738.33,389.33 739.13,388.99 739.76,388.64 740.23,388.29 740.51,387.94 740.60,387.60" fill="url(#g1)"/>
<polygon points="740.00,385.20 740.43,384.78 740.60,384.36 740.49,383.97 740.12,383.61 739.49,383.29 738.61,383.01 737.51,382.79 736.22,382.63 734.76,382.53 733.18,382.50 731.51,382.53 729.79,382.63 728.07,382.79 726.38,383.01 724.78,383.29 723.29,383.61 721.96,383.97 720.81,384.36 719.89,384.78 719.20,385.20 718.77,385.62 718.60,386.03 718.71,386.43 719.08,386.79 719.71,387.11 720.59,387.38 721.69,387.61 722.98,387.77 724.44,387.87 726.02,387.90 727.69,387.87 729.41,387.77 731.13,387.61 732.82,387.38 734.42,387.11 735.91,386.79 737.24,386.43 738.39,386.03 739.31,385.62 740.00,385.20" fill="url(#c1)"/>
<polygon points="719.20,386.34 719.11,386.01 718.83,385.71 718.36,385.43 717.73,385.18 716.93,384.96 715.98,384.79 714.90,384.65 713.70,384.56 712.41,384.52 711.05,384.52 709.64,384.57 708.20,384.66 706.76,384.80 705.35,384.98 703.99,385.19 702.70,385.44 701.50,385.72 700.42,386.03 699.47,386.36 698.67,386.70 698.04,387.05 697.57,387.40 697.29,387.75 697.20,388.09 697.20,389.35 697.29,389.68 697.57,389.98 698.04,390.26 698.67,390.51 699.47,390.73 700.42,390.90 701.50,391.04 702.70,391.13 703.99,391.17 705.35,391.17 706.76,391.12 708.20,391.03 709.64,390.89 711.05,390.71 712.41,390.50 713.70,390.25 714.90,389.97 715.98,389.66 716.93,389.33 717.73,388.99 718.36,388.64 718.83,388.29 719.11,387.94 719.20,387.60" fill="url(#g0)"/>
<polygon points="718.60,387.22 719.03,386.79 719.20,386.38 719.09,385.99 718.72,385.63 718.09,385.31 717.21,385.03 716.11,384.81 714.82,384.65 713.36,384.55 711.78,384.52 710.11,384.55 708.39,384.65 706.67,384.81 704.98,385.03 703.38,385.31 701.89,385.63 700.56,385.99 699.41,386.38 698.49,386.79 697.80,387.22 697.37,387.64 697.20,388.05 697.31,388.44 697.68,388.80 698.31,389.12 699.19,389.40 700.29,389.62 701.58,389.78 703.04,389.88 704.62,389.92 706.29,389.88 708.01,389.78 709.73,389.62 711.42,389.40 713.02,389.12 714.51,388.80 715.84,388.44 716.99,388.05 717.91,387.64 718.60,387.22" fill="url(#c0)"/>
<text transform="translate(153.65 422.90) rotate(-45)" x="0" y="0" font-size="18.4" text-anchor="end" textLength="64.26" lengthAdjust="spacingAndGlyphs">Alcohol</text>
<text transform="translate(270.15 422.90) rotate(-45)" x="0" y="0" font-size="18.4" text-anchor="end" textLength="77.25" lengthAdjust="spacingAndGlyphs">Cannabis</text>
<text transform="translate(386.65 422.90) rotate(-45)" x="0" y="0" font-size="18.4" text-anchor="end" textLength="213.84" lengthAdjust="spacingAndGlyphs">Cocaine or Crack Cocaine</text>
<text transform="translate(503.15 422.90) rotate(-45)" x="0" y="0" font-size="18.4" text-anchor="end" textLength="66.36" lengthAdjust="spacingAndGlyphs">Opiates</text>
<text transform="translate(619.65 422.90) rotate(-45)" x="0" y="0" font-size="18.4" text-anchor="end" textLength="130.18" lengthAdjust="spacingAndGlyphs">Amphetamines</text>
<text transform="translate(736.15 422.90) rotate(-45)" x="0" y="0" font-size="18.4" text-anchor="end" textLength="50.26" lengthAdjust="spacingAndGlyphs">Other</text>
<g font-size="19.5">
<rect x="872.35" y="273.10" width="12.6" height="12.5" fill="#3686a0"/>
<polygon points="937.6,290.40 939.9,290.40 946.5,271.20 944.2,271.20" fill="#000"/>
<rect x="872.35" y="317.77" width="12.6" height="12.5" fill="#409db9"/>
<polygon points="937.6,334.77 939.9,334.77 946.5,315.57 944.2,315.57" fill="#000"/>
<rect x="872.35" y="362.44" width="12.6" height="12.5" fill="#72b5ce"/>
<polygon points="937.6,379.14 939.9,379.14 946.5,359.94 944.2,359.94" fill="#000"/>
<rect x="872.35" y="407.11" width="12.6" height="12.5" fill="#b0d1e0"/>
<polygon points="937.6,423.51 939.9,423.51 946.5,404.31 944.2,404.31" fill="#000"/>
</g>
</svg></body></html>
